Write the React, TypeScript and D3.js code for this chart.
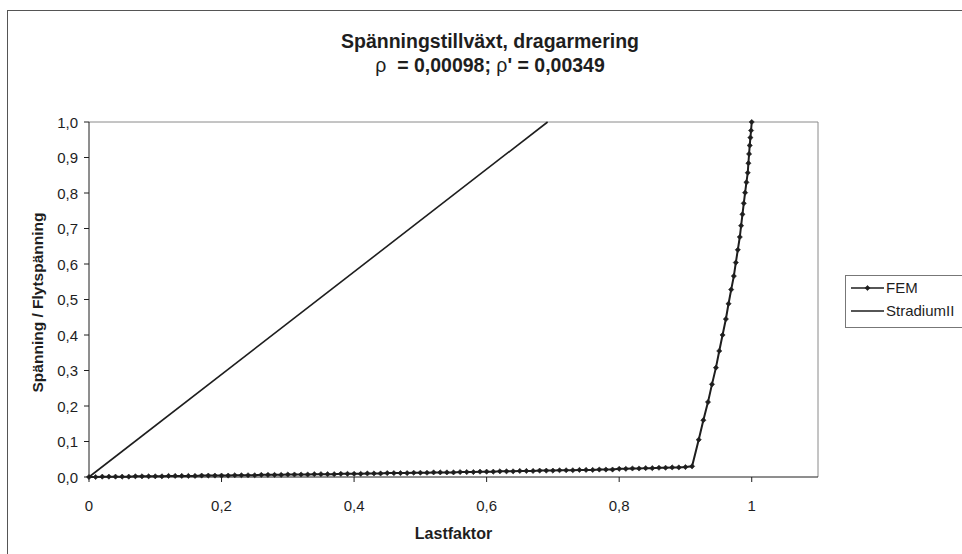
import React from 'react';
import * as d3 from 'd3';

// FEM: load factor and stress ratio
const femLoad = [
  0, 0.01, 0.02, 0.03, 0.04, 0.05, 0.06, 0.07, 0.08, 0.09,
  0.1, 0.11, 0.12, 0.13, 0.14, 0.15, 0.16, 0.17, 0.18, 0.19,
  0.2, 0.21, 0.22, 0.23, 0.24, 0.25, 0.26, 0.27, 0.28, 0.29,
  0.3, 0.31, 0.32, 0.33, 0.34, 0.35, 0.36, 0.37, 0.38, 0.39,
  0.4, 0.41, 0.42, 0.43, 0.44, 0.45, 0.46, 0.47, 0.48, 0.49,
  0.5, 0.51, 0.52, 0.53, 0.54, 0.55, 0.56, 0.57, 0.58, 0.59,
  0.6, 0.61, 0.62, 0.63, 0.64, 0.65, 0.66, 0.67, 0.68, 0.69,
  0.7, 0.71, 0.72, 0.73, 0.74, 0.75, 0.76, 0.77, 0.78, 0.79,
  0.8, 0.81, 0.82, 0.83, 0.84, 0.85, 0.86, 0.87, 0.88, 0.89,
  0.9, 0.91,
  0.92, 0.927, 0.934, 0.94, 0.946, 0.951, 0.956, 0.961, 0.965, 0.969,
  0.973, 0.976, 0.979, 0.982, 0.984, 0.986, 0.988, 0.99, 0.992, 0.994,
  0.995, 0.996, 0.997, 0.998, 0.999, 1.0
];
const femStress = [
  0.000, 0.000, 0.001, 0.001, 0.001, 0.001, 0.001, 0.002, 0.002, 0.002,
  0.002, 0.002, 0.003, 0.003, 0.003, 0.003, 0.003, 0.004, 0.004, 0.004,
  0.004, 0.004, 0.005, 0.005, 0.005, 0.005, 0.006, 0.006, 0.006, 0.006,
  0.007, 0.007, 0.007, 0.007, 0.008, 0.008, 0.008, 0.008, 0.009, 0.009,
  0.009, 0.009, 0.010, 0.010, 0.010, 0.011, 0.011, 0.011, 0.011, 0.012,
  0.012, 0.012, 0.013, 0.013, 0.013, 0.013, 0.014, 0.014, 0.014, 0.015,
  0.015, 0.015, 0.016, 0.016, 0.016, 0.017, 0.017, 0.017, 0.018, 0.018,
  0.018, 0.019, 0.019, 0.019, 0.020, 0.020, 0.020, 0.021, 0.021, 0.021,
  0.023, 0.023, 0.024, 0.024, 0.025, 0.025, 0.026, 0.026, 0.027, 0.027,
  0.028, 0.030,
  0.105, 0.160, 0.211, 0.261, 0.308, 0.355, 0.400, 0.445, 0.488, 0.528,
  0.566, 0.604, 0.640, 0.676, 0.708, 0.740, 0.771, 0.801, 0.830, 0.857,
  0.884, 0.910, 0.934, 0.956, 0.976, 1.0
];

// Stadium II: straight line
const stadLoad = [0, 0.692];
const stadStress = [0, 1.0];

const xTicks = [0, 0.2, 0.4, 0.6, 0.8, 1];
const yTicks = [0, 0.1, 0.2, 0.3, 0.4, 0.5, 0.6, 0.7, 0.8, 0.9, 1.0];
const legendNames = ['FEM', 'StradiumII'];

const W = 962;
const H = 554;
const margin = { left: 89, top: 122, right: 144, bottom: 77 };
const FONT = '"Liberation Sans", Arial, sans-serif';
const INK = '#1e1e1e';

const fmt = (v: number, d: number) => v.toFixed(d).replace('.', ',');

const App: React.FC = () => {
  const innerW = W - margin.left - margin.right;
  const innerH = H - margin.top - margin.bottom;

  const x = d3.scaleLinear().domain([0, 1.1]).range([margin.left, margin.left + innerW]);
  const y = d3.scaleLinear().domain([0, 1]).range([margin.top + innerH, margin.top]);

  const fem = femLoad.map((l, i) => [l, femStress[i]] as [number, number]);
  const stad = stadLoad.map((l, i) => [l, stadStress[i]] as [number, number]);

  const line = d3.line<[number, number]>()
    .x(d => x(d[0]))
    .y(d => y(d[1]));

  const x0 = x(0);
  const x1 = x(1.1);
  const y0 = y(0);
  const y1 = y(1);

  const marker = (cx: number, cy: number, k: number) => (
    <path
      key={k}
      d={`M${cx - 2.6},${cy}L${cx},${cy - 2.6}L${cx + 2.6},${cy}L${cx},${cy + 2.6}Z`}
      fill={INK}
      stroke={INK}
      strokeWidth={0.6}
    />
  );

  const legX = 845;
  const legY = 275;

  return (
    <svg
      width={W}
      height={H}
      style={{ position: 'absolute', left: 0, top: 0, background: '#fff' }}
      fontFamily={FONT}
    >
      <rect x={0} y={0} width={W} height={H} fill="#fff" />
      {/* outer chart frame */}
      <rect x={7.5} y={10.5} width={1100} height={700} fill="none" stroke="#555" strokeWidth={1} />

      {/* title */}
      <text x={490} y={48} textAnchor="middle" fontSize={19.5} fontWeight="bold" fill={INK}>
        Spänningstillväxt, dragarmering
      </text>
      <text x={490} y={72} textAnchor="middle" fontSize={19.5} fontWeight="bold" fill={INK}>
        <tspan fontWeight="normal">ρ</tspan>
        <tspan>{'\u00a0\u00a0= 0,00098; '}</tspan>
        <tspan fontWeight="normal">ρ</tspan>
        <tspan>{"' = 0,00349"}</tspan>
      </text>

      {/* plot area frame (top & right) */}
      <path d={`M${x0},${y1}H${x1}V${y0}`} fill="none" stroke="#8a8a8a" strokeWidth={1} />

      {/* axes */}
      <line x1={x0} x2={x1} y1={y0} y2={y0} stroke={INK} strokeWidth={1} />
      <line x1={x0} x2={x0} y1={y1} y2={y0} stroke={INK} strokeWidth={1} />

      {yTicks.map(t => (
        <g key={'y' + t}>
          <line x1={x0 - 5} x2={x0} y1={y(t)} y2={y(t)} stroke={INK} />
          <text x={x0 - 11} y={y(t) + 5.5} textAnchor="end" fontSize={15} fill={INK}>
            {fmt(t, 1)}
          </text>
        </g>
      ))}
      {xTicks.map(t => (
        <g key={'x' + t}>
          <line x1={x(t)} x2={x(t)} y1={y0} y2={y0 + 5} stroke={INK} />
          <text x={x(t)} y={y0 + 34} textAnchor="middle" fontSize={15} fill={INK}>
            {t === 0 || t === 1 ? String(t) : fmt(t, 1)}
          </text>
        </g>
      ))}

      <text x={(x0 + x1) / 2} y={539} textAnchor="middle" fontSize={16} fontWeight="bold" fill={INK}>
        Lastfaktor
      </text>
      <text
        transform={`translate(43,${(y0 + y1) / 2 + 3}) rotate(-90)`}
        textAnchor="middle"
        fontSize={15.5}
        fontWeight="bold"
        fill={INK}
      >
        Spänning / Flytspänning
      </text>

      {/* series */}
      <path d={line(stad) || ''} fill="none" stroke={INK} strokeWidth={1.6} />
      <path d={line(fem) || ''} fill="none" stroke={INK} strokeWidth={2} />
      {fem.map((d, i) => marker(x(d[0]), y(d[1]), i))}

      {/* legend */}
      <rect x={legX + 0.5} y={legY + 0.5} width={200} height={52} fill="#fff" stroke="#777" />
      <line x1={legX + 6} x2={legX + 39} y1={legY + 13} y2={legY + 13} stroke={INK} strokeWidth={1.6} />
      {marker(legX + 22.5, legY + 13, -1)}
      <text x={legX + 41} y={legY + 18} fontSize={15} fill={INK}>{legendNames[0]}</text>
      <line x1={legX + 6} x2={legX + 39} y1={legY + 36} y2={legY + 36} stroke={INK} strokeWidth={1.6} />
      <text x={legX + 41} y={legY + 41} fontSize={15} fill={INK}>{legendNames[1]}</text>
    </svg>
  );
};

export default App;
